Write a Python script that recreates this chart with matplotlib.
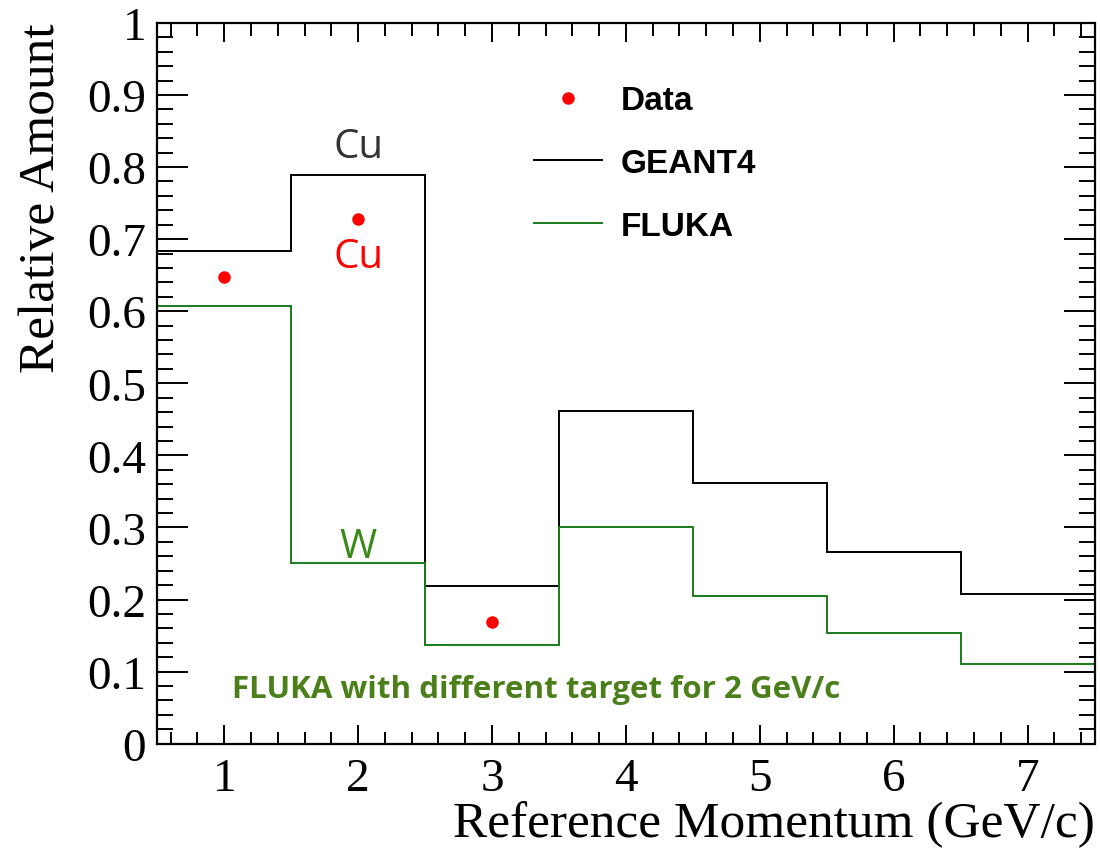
import numpy as np
import matplotlib.pyplot as plt
from matplotlib.ticker import MultipleLocator

# bin edges and histogram contents
edges = [0.5, 1.5, 2.5, 3.5, 4.5, 5.5, 6.5, 7.5]
geant4 = [0.684, 0.789, 0.219, 0.462, 0.361, 0.266, 0.207]
fluka = [0.607, 0.250, 0.137, 0.300, 0.205, 0.153, 0.111]

data_x = [1, 2, 3]
data_y = [0.648, 0.728, 0.169]

fig = plt.figure(figsize=(11, 8.53), dpi=100)
ax = fig.add_axes([0.143, 0.127, 0.852, 0.845])

ax.stairs(geant4, edges, color='black', lw=1.4, label='GEANT4', baseline=None)
ax.stairs(fluka, edges, color='#1a7a1a', lw=1.4, label='FLUKA', baseline=None)
ax.plot(data_x, data_y, 'o', color='red', ms=8, ls='none', label='Data')

ax.set_xlim(0.5, 7.5)
ax.set_ylim(0, 1)
ax.xaxis.set_major_locator(MultipleLocator(1))
ax.xaxis.set_minor_locator(MultipleLocator(0.2))
ax.yaxis.set_major_locator(MultipleLocator(0.1))
ax.yaxis.set_minor_locator(MultipleLocator(0.02))
ax.tick_params(which='both', direction='in', top=True, right=True, width=1.4)
ax.tick_params(axis='x', which='major', length=14, labelsize=34, pad=10)
ax.tick_params(axis='x', which='minor', length=9)
ax.tick_params(axis='y', which='major', length=22, labelsize=34, pad=8)
ax.tick_params(axis='y', which='minor', length=11.5)
ax.set_yticks(np.arange(0, 1.01, 0.1))
ax.set_yticklabels(['0', '0.1', '0.2', '0.3', '0.4', '0.5', '0.6', '0.7', '0.8', '0.9', '1'])
for lab in ax.get_xticklabels() + ax.get_yticklabels():
    lab.set_family('Liberation Serif')
for s in ax.spines.values():
    s.set_linewidth(1.6)

ax.set_xlabel('Reference Momentum (GeV/c)', family='Liberation Serif', fontsize=37,
              loc='right', labelpad=0)
ax.set_ylabel('Relative Amount', family='Liberation Serif', fontsize=37,
              loc='top', labelpad=16)

h, l = ax.get_legend_handles_labels()
order = [2, 0, 1]
leg = ax.legend([h[i] for i in order], [l[i] for i in order], loc='upper left',
                bbox_to_anchor=(0.37, 0.955), frameon=False, handlelength=2.05,
                labelspacing=0.95, handletextpad=0.55,
                prop={'family': 'Liberation Sans', 'weight': 'bold', 'size': 24})

ax.text(2, 0.828, 'Cu', color='#333333', fontsize=29, family='Open Sans', ha='center', va='center')
ax.text(2, 0.676, 'Cu', color='red', fontsize=29, family='Open Sans', ha='center', va='center')
ax.text(2, 0.273, 'W', color='#3a8a1a', fontsize=29, family='Open Sans', ha='center', va='center')
ax.text(3.33, 0.076, 'FLUKA with different target for 2 GeV/c', color='#4a7f1a',
        fontsize=22.5, family='Open Sans', weight='bold', ha='center', va='center')

fig.savefig('out.png', dpi=100)
